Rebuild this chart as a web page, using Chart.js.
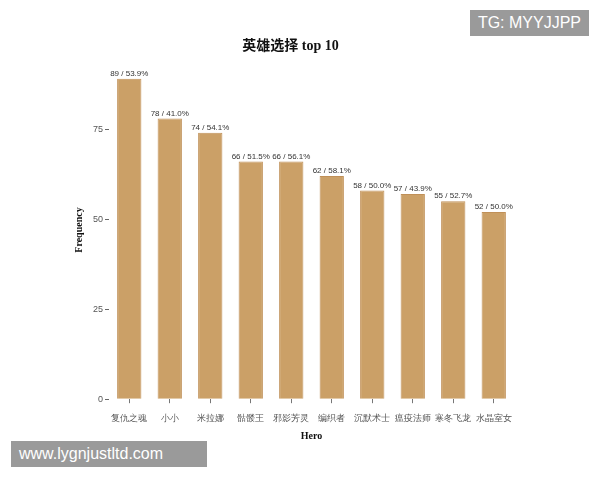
<!DOCTYPE html>
<html><head><meta charset="utf-8">
<script src="https://cdn.jsdelivr.net/npm/chart.js@4"></script>
<style>
body{margin:0;background:#fff;width:600px;height:480px;overflow:hidden;position:relative;font-family:"Noto Sans CJK SC",sans-serif}
#wrap{position:absolute;left:0;top:0;width:600px;height:480px}
.wm{position:absolute;background:#9a9a9a;color:#fff;font-family:"Liberation Sans",sans-serif;font-size:16px;padding:4px 8px}
</style></head><body>
<div id="wrap"><canvas id="graph" width="600" height="480"></canvas></div>
<div class="wm" style="right:11px;top:10px">TG: MYYJJPP</div>
<div class="wm" style="left:11px;top:441px;width:180px">www.lygnjustltd.com</div>
<script>
const heroes = ["复仇之魂","小小","米拉娜","骷髅王","邪影芳灵","编织者","沉默术士","瘟疫法师","寒冬飞龙","水晶室女"];
const frequency = [89,78,74,66,66,62,58,57,55,52];
const winRate = ["53.9%","41.0%","54.1%","51.5%","56.1%","58.1%","50.0%","43.9%","52.7%","50.0%"];
const yTicks = [0,25,50,75];

const barLabels = {
  id: "barLabels",
  afterDatasetsDraw(chart) {
    const ctx = chart.ctx;
    ctx.save();
    ctx.font = "8px 'Liberation Sans', sans-serif";
    ctx.fillStyle = "#333";
    ctx.textAlign = "center";
    ctx.textBaseline = "bottom";
    chart.getDatasetMeta(0).data.forEach((bar, i) => {
      ctx.fillText(frequency[i] + " / " + winRate[i], bar.x, bar.y - 1);
    });
    ctx.restore();
  }
};

new Chart(document.getElementById("graph").getContext("2d"), {
  type: "bar",
  data: {
    labels: heroes,
    datasets: [{
      data: frequency,
      backgroundColor: "#cba067",
      borderColor: "#c09058",
      borderWidth: 1,
      categoryPercentage: 1,
      barPercentage: 0.6
    }]
  },
  options: {
    responsive: false,
    animation: false,
    layout: { padding: { left: 67, right: 86, top: 0, bottom: 34 } },
    plugins: {
      legend: { display: false },
      tooltip: { enabled: false },
      title: {
        display: true, text: "英雄选择 top 10", color: "#111",
        font: { family: "'Liberation Serif','Noto Sans CJK SC',serif", size: 14, weight: "bold" },
        padding: { top: 38, bottom: 6 }
      }
    },
    scales: {
      x: {
        grid: { display: true, color: "rgba(0,0,0,0)", drawOnChartArea: false, tickLength: 4, tickColor: "#777", offset: false },
        border: { display: false },
        ticks: { color: "#555", font: { size: 9 }, padding: 10, maxRotation: 0, autoSkip: false },
        title: { display: true, text: "Hero", color: "#111", padding: { top: -4 },
          font: { family: "'Liberation Serif',serif", size: 10, weight: "bold" } }
      },
      y: {
        min: 0, max: 94,
        afterBuildTicks(axis) { axis.ticks = yTicks.map(v => ({ value: v })); },
        grid: { display: true, drawOnChartArea: false, tickLength: 4, tickColor: "#666" },
        border: { display: false },
        ticks: { color: "#555", font: { size: 9 }, padding: 2 },
        title: { display: true, text: "Frequency", color: "#111", padding: 6,
          font: { family: "'Liberation Serif',serif", size: 10, weight: "bold" } }
      }
    }
  },
  plugins: [barLabels]
});
</script>
</body></html>
